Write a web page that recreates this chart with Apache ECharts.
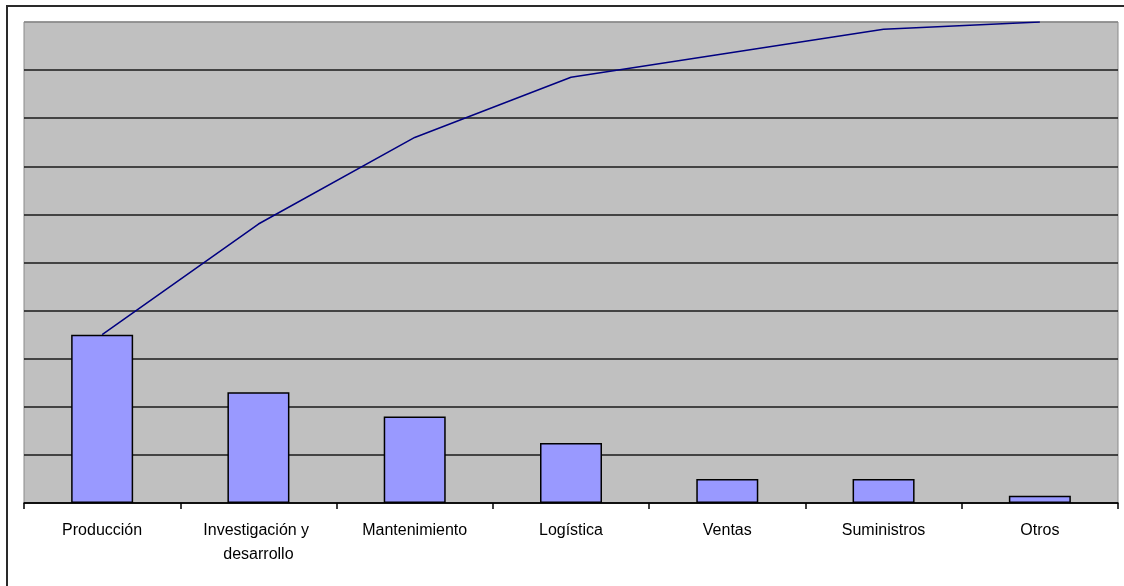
<!DOCTYPE html>
<html>
<head>
<meta charset="utf-8">
<script src="https://cdn.jsdelivr.net/npm/echarts@6/dist/echarts.min.js"></script>
<style>
  html, body { margin: 0; padding: 0; background: #fff; }
  #chart { width: 1124px; height: 586px; }
</style>
</head>
<body>
<div id="chart"></div>
<script>
// categorias del Pareto
var categories = ['Producción', 'Investigación y desarrollo', 'Mantenimiento', 'Logística', 'Ventas', 'Suministros', 'Otros']
// porcentaje por area (barras)
var barValues = [35, 23, 18, 12.5, 5, 5, 1.5]
// porcentaje acumulado (linea)
var cumulativeValues = [35, 58, 76, 88.5, 93.5, 98.5, 100]

var chart = echarts.init(document.getElementById('chart'))

// la ultima linea de division coincide con el borde del area, va en gris
var gridColors = ['#1a1a1a', '#1a1a1a', '#1a1a1a', '#1a1a1a', '#1a1a1a', '#1a1a1a',
  '#1a1a1a', '#1a1a1a', '#1a1a1a', '#1a1a1a', '#8a8a8a']

chart.setOption({
  animation: false,
  graphic: [
    {
      type: 'rect',
      shape: { x: 7, y: 6, width: 1140, height: 620 },
      style: { fill: 'none', stroke: '#2a2a2a', lineWidth: 2 },
      z: 100
    }
  ],
  grid: {
    left: 24,
    right: 6,
    top: 22,
    bottom: 83,
    show: true,
    backgroundColor: '#c0c0c0',
    borderColor: '#8a8a8a',
    borderWidth: 1
  },
  xAxis: {
    type: 'category',
    data: categories,
    boundaryGap: true,
    axisLine: { lineStyle: { color: '#000', width: 1.5 } },
    axisTick: { show: true, length: 6, lineStyle: { color: '#000', width: 1.5 } },
    axisLabel: {
      interval: 0,
      color: '#000',
      fontFamily: 'Liberation Sans, Arial, sans-serif',
      fontSize: 16,
      lineHeight: 24,
      margin: 16,
      width: 150,
      overflow: 'break'
    }
  },
  yAxis: {
    type: 'value',
    min: 0,
    max: 100,
    interval: 10,
    axisLine: { show: false },
    axisTick: { show: false },
    axisLabel: { show: false },
    splitLine: { lineStyle: { color: gridColors, width: 1.5 } }
  },
  series: [
    {
      type: 'bar',
      data: barValues,
      barWidth: 62,
      itemStyle: { color: '#9999ff', borderColor: '#000', borderWidth: 1.5 }
    },
    {
      type: 'line',
      data: cumulativeValues,
      symbol: 'none',
      lineStyle: { color: '#000080', width: 1.5 },
      z: 5
    }
  ]
})
</script>
</body>
</html>
